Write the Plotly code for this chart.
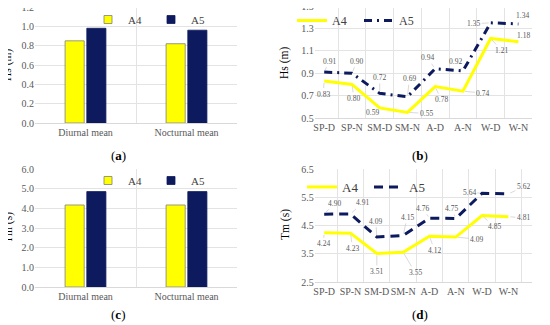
import plotly.graph_objects as go

# ---- data ----
bar_categories = ["Diurnal mean", "Nocturnal mean"]
hs_bar_a4 = [0.85, 0.82]
hs_bar_a5 = [0.98, 0.96]
tm_bar_a4 = [4.17, 4.17]
tm_bar_a5 = [4.85, 4.85]

season_categories = ["SP-D", "SP-N", "SM-D", "SM-N", "A-D", "A-N", "W-D", "W-N"]
hs_a4 = [0.83, 0.80, 0.59, 0.55, 0.78, 0.74, 1.21, 1.18]
hs_a5 = [0.91, 0.90, 0.72, 0.69, 0.94, 0.92, 1.35, 1.34]
tm_a4 = [4.24, 4.23, 3.51, 3.55, 4.12, 4.09, 4.85, 4.81]
tm_a5 = [4.90, 4.91, 4.09, 4.15, 4.76, 4.75, 5.64, 5.62]

# tick labels
ticks_a = ["0.0", "0.2", "0.4", "0.6", "0.8", "1.0", "1.2"]
ticks_b = ["0.5", "0.7", "0.9", "1.1", "1.3", "1.5"]
ticks_c = ["0.0", "1.0", "2.0", "3.0", "4.0", "5.0", "6.0"]
ticks_d = ["2.5", "3.5", "4.5", "5.5", "6.5"]

# ---- label offsets (pixels, layout only) ----
off_hs_a5 = [(5, -11), (5, -12), (0, -16), (2, -18), (-8, -11), (-7, -9), (-17, 1), (4, -8)]
off_hs_a4 = [(-1, 13), (2, 14), (-7, 5), (19, 1), (6, 13), (20, 2), (11, 12), (5, -6)]
off_tm_a5 = [(10, -11), (12, -11), (-1, -16), (4, -18), (-7, -10), (-4, -10), (-13, -1), (15, -7)]
off_tm_a4 = [(-1, 11), (2, 15), (0, 18), (12, 20), (5, 14), (21, 2), (12, 11), (15, 1)]

YEL = "#FFFF00"
NAVY = "#0D1B5E"
FONT = "Liberation Serif"
GRID = "#E3E3E3"
TICKC = "#595959"

W, H = 550, 325
def px(x):
    return x / W
def py(y):
    return 1 - y / H

fig = go.Figure()

def bar_pair(xax_, yax_, v4, v5, leg):
    fig.add_trace(go.Bar(x=bar_categories, y=v4, name="A4", showlegend=False,
                         marker=dict(color=YEL, line=dict(color="#7F7F7F", width=0.8)), xaxis=xax_, yaxis=yax_))
    fig.add_trace(go.Bar(x=bar_categories, y=v5, name="A5", showlegend=False,
                         marker=dict(color=NAVY, line=dict(color=NAVY, width=0.8)), xaxis=xax_, yaxis=yax_))
    # legend-only entries with small square keys
    fig.add_trace(go.Scatter(x=[None], y=[None], name="A4", mode="markers", xaxis=xax_, yaxis=yax_, legend=leg,
                             marker=dict(symbol="square", size=8, color=YEL, line=dict(color="#7F7F7F", width=0.8))))
    fig.add_trace(go.Scatter(x=[None], y=[None], name="A5", mode="markers", xaxis=xax_, yaxis=yax_, legend=leg,
                             marker=dict(symbol="square", size=8, color=NAVY, line=dict(color=NAVY, width=0.8))))

bar_pair("x", "y", hs_bar_a4, hs_bar_a5, "legend")
bar_pair("x3", "y3", tm_bar_a4, tm_bar_a5, "legend3")

# (b)
fig.add_trace(go.Scatter(x=season_categories, y=hs_a4, name="A4", mode="lines", line=dict(color=YEL, width=3),
                         xaxis="x2", yaxis="y2", legend="legend2"))
fig.add_trace(go.Scatter(x=season_categories, y=hs_a5, name="A5", mode="lines",
                         line=dict(color=NAVY, width=3, dash="8px,5px,2px,5px"),
                         xaxis="x2", yaxis="y2", legend="legend2"))
# (d)
fig.add_trace(go.Scatter(x=season_categories, y=tm_a4, name="A4", mode="lines", line=dict(color=YEL, width=3),
                         xaxis="x4", yaxis="y4", legend="legend4"))
fig.add_trace(go.Scatter(x=season_categories, y=tm_a5, name="A5", mode="lines",
                         line=dict(color=NAVY, width=3, dash="9px,6px"),
                         xaxis="x4", yaxis="y4", legend="legend4"))

annotations = []
def add_labels(xref, yref, ys, offs):
    for c, v, (dx, dy) in zip(season_categories, ys, offs):
        annotations.append(dict(x=c, y=v, xref=xref, yref=yref, text=f"{v:.2f}",
                                showarrow=True, arrowhead=0, arrowwidth=0.6, arrowcolor="#BFBFBF",
                                ax=dx, ay=dy, standoff=2,
                                font=dict(family=FONT, size=7.5, color="#595959")))

add_labels("x2", "y2", hs_a5, off_hs_a5)
add_labels("x2", "y2", hs_a4, off_hs_a4)
add_labels("x4", "y4", tm_a5, off_tm_a5)
add_labels("x4", "y4", tm_a4, off_tm_a4)

for txt, x, y in [("(<b>a</b>)", 118, 155), ("(<b>b</b>)", 420, 155), ("(<b>c</b>)", 118, 314), ("(<b>d</b>)", 420, 314)]:
    annotations.append(dict(x=px(x), y=py(y), xref="paper", yref="paper", text=txt, showarrow=False,
                            font=dict(family=FONT, size=13, color="#000000"), xanchor="center", yanchor="middle"))
for txt, x, y in [("Hs (m)", 8, 65), ("Hs (m)", 285, 63), ("Tm (s)", 8, 228), ("Tm (s)", 285, 225)]:
    annotations.append(dict(x=px(x), y=py(y), xref="paper", yref="paper", text=txt, showarrow=False, textangle=-90,
                            font=dict(family=FONT, size=11.5, color="#000000"), xanchor="center", yanchor="middle"))

tickfont = dict(family=FONT, size=10, color=TICKC)
def xax(dom, anchor):
    return dict(domain=dom, anchor=anchor, type="category", tickson="boundaries", showgrid=True, gridcolor=GRID,
                gridwidth=1, showline=True, linecolor="#D9D9D9", ticks="", tickfont=tickfont, zeroline=False,
                tickangle=0, automargin=False, fixedrange=True, ticklabeloverflow="allow")
def yax(dom, anchor, labels):
    vals = [float(t) for t in labels]
    return dict(domain=dom, anchor=anchor, range=[vals[0], vals[-1]], tickmode="array", tickvals=vals,
                ticktext=labels, showgrid=True, gridcolor=GRID, gridwidth=1, zeroline=False, showline=False,
                ticks="", tickfont=tickfont, automargin=False, ticklabeloverflow="allow")

xa = [px(35), px(237)]
xb = [px(314.7), px(531.9)]
legfont = dict(family=FONT, size=11, color="#404040")
legfont2 = dict(family=FONT, size=12, color="#404040")
legfont4 = dict(family=FONT, size=13, color="#404040")
common_leg = dict(orientation="h", bgcolor="rgba(0,0,0,0)", traceorder="normal", itemwidth=30,
                  tracegroupgap=0, yanchor="top", entrywidthmode="pixels")
fig.update_layout(
    width=W, height=H, margin=dict(l=0, r=0, t=0, b=0),
    paper_bgcolor="white", plot_bgcolor="white",
    barmode="group", bargap=0.57, bargroupgap=0.12,
    xaxis=xax(xa, "y"), yaxis=yax([py(123), py(7)], "x", ticks_a),
    xaxis3=xax(xa, "y3"), yaxis3=yax([py(287), py(169)], "x3", ticks_c),
    xaxis2=xax(xb, "y2"), yaxis2=yax([py(118), py(6)], "x2", ticks_b),
    xaxis4=xax(xb, "y4"), yaxis4=yax([py(282), py(169)], "x4", ticks_d),
    legend=dict(common_leg, x=px(88), y=py(5), xanchor="left", font=legfont, entrywidth=18),
    legend3=dict(common_leg, x=px(88), y=py(166), xanchor="left", font=legfont, entrywidth=18),
    legend2=dict(common_leg, x=px(292), y=py(6), xanchor="left", font=legfont2, entrywidth=22),
    legend4=dict(common_leg, x=px(302), y=py(172), xanchor="left", font=legfont4, entrywidth=22),
    annotations=annotations,
    showlegend=True,
)

# shift the drawn figure to the window's top-left corner visually, without triggering a redraw
post = ("var gd=document.getElementById('{plot_id}');var r=gd.getBoundingClientRect();"
        "gd.style.transform='translate('+(-r.left)+'px,'+(-r.top)+'px)';")
fig.write_html("out.html", config={"displayModeBar": False, "responsive": False}, post_script=post)
